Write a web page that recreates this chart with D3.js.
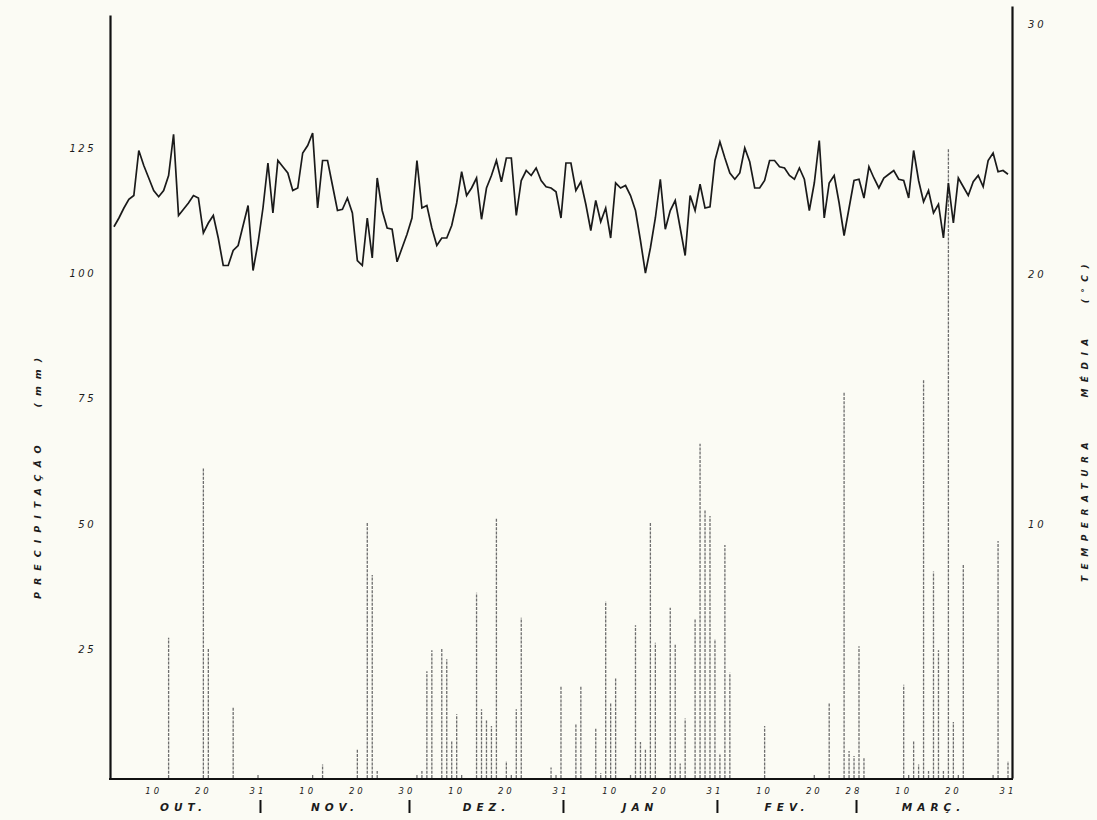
<!DOCTYPE html>
<html>
<head>
<meta charset="utf-8">
<script src="https://cdn.jsdelivr.net/npm/d3@7"></script>
<style>
  body { margin: 0; background: #fbfbf4; }
  svg { display: block; }
  text { font-family: "DejaVu Sans", sans-serif; font-style: italic; fill: #1c1c1c; }
</style>
</head>
<body>
<div id="chart"></div>
<script>
// daily series, day 0 = 1 Oct ... day 181 = 31 Mar
const width = 1097;
const height = 820;

// mean temperature (°C), one value per day
const tempC = [
  null, 22.05, 22.4, 22.8, 23.15, 23.3, 25.1, 24.5, 24.0, 23.5,
  23.25, 23.5, 24.1, 25.75, 22.5, 22.75, 23.0, 23.3, 23.2, 21.8,
  22.2, 22.5, 21.6, 20.5, 20.5, 21.1, 21.3, 22.1, 22.9, 20.3,
  21.4, 22.8, 24.6, 22.6, 24.7, 24.45, 24.2, 23.5, 23.6, 25.0,
  25.3, 25.8, 22.8, 24.7, 24.7, 23.7, 22.7, 22.75, 23.2, 22.6,
  20.7, 20.5, 22.4, 20.8, 24.0, 22.7, 22.0, 21.95, 20.65, 21.2,
  21.75, 22.4, 24.7, 22.8, 22.9, 22.0, 21.3, 21.6, 21.6, 22.1,
  23.0, 24.25, 23.3, 23.6, 24.0, 22.35, 23.6, 24.1, 24.7, 23.85,
  24.8, 24.8, 22.5, 23.9, 24.3, 24.1, 24.4, 23.9, 23.65, 23.6,
  23.45, 22.4, 24.6, 24.6, 23.5, 23.85, 22.95, 21.9, 23.1, 22.25,
  22.8, 21.6, 23.8, 23.6, 23.7, 23.3, 22.7, 21.5, 20.2, 21.2,
  22.4, 23.95, 21.95, 22.7, 23.1, 22.0, 20.9, 23.3, 22.7, 23.75,
  22.8, 22.85, 24.7, 25.45, 24.8, 24.2, 23.95, 24.2, 25.2, 24.65,
  23.6, 23.6, 23.9, 24.7, 24.7, 24.45, 24.4, 24.1, 23.95, 24.4,
  23.95, 22.7, 23.8, 25.5, 22.4, 23.8, 24.1, 23.0, 21.7, 22.8,
  23.9, 23.95, 23.2, 24.45, 24.0, 23.6, 24.0, 24.15, 24.3, 23.95,
  23.9, 23.2, 25.1, 23.9, 23.05, 23.5, 22.6, 22.95, 21.6, 23.8,
  22.2, 24.0, 23.65, 23.3, 23.85, 24.1, 23.65, 24.7, 25.0, 24.25,
  24.3, 24.15
];

// rain days and amounts (mm)
const rainDay = [12, 19, 20, 25, 30, 41, 43, 50, 52, 53, 54, 62, 63, 64, 65, 67, 68, 69, 70, 71,
  74, 75, 76, 77, 78, 80, 81, 82, 83, 89, 90, 91, 94, 95, 98, 99, 100, 101, 102, 105,
  106, 107, 108, 109, 110, 113, 114, 115, 116, 118, 119, 120, 121, 122, 123, 124, 125, 132, 142, 145,
  148, 149, 150, 151, 152, 160, 161, 162, 163, 164, 165, 166, 167, 168, 169, 170, 171, 172, 178, 179, 181];
const rainMm = [28, 62, 26, 14, 0.8, 0.8, 2.7, 5.7, 51, 40.5, 1.4, 0.6, 1.4, 21.3, 25.5, 26, 23.7, 7.5, 12.7, 0.6,
  37, 13.7, 11.5, 10.4, 52, 3.4, 0.6, 13.7, 32, 2.1, 0.8, 18.4, 10.7, 18.2, 9.9, 1.0, 35.3, 15, 20, 0.8,
  30.5, 7.2, 5.7, 51, 27, 34, 26.7, 2.9, 11.9, 31.7, 66.7, 53.6, 52.3, 27.7, 4.7, 46.5, 21, 10.4, 0.8, 15,
  77, 5.4, 4.4, 26.3, 4.1, 18.6, 0.6, 7.4, 2.7, 79.5, 1.4, 41.2, 25.5, 1.4, 125.7, 11.2, 0.6, 42.6, 0.8, 47.3, 3.4];

const precipTicks = [25, 50, 75, 100, 125];
const tempTicks = [10, 20, 30];
const dayTicks = [9, 19, 30, 40, 50, 60, 70, 80, 91, 101, 111, 122, 132, 142, 150, 160, 170, 181];
const months = ["OUT.", "NOV.", "DEZ.", "JAN", "FEV.", "MARÇ."];
const monthStart = [0, 31, 61, 92, 123, 151, 182];

const left = 110, right = 1012, base = 779;

const svg = d3.select("#chart").append("svg")
  .attr("width", width).attr("height", height);

const x = d3.scaleLinear().domain([0, 181]).range([109, 1008]);
const yP = d3.scaleLinear().domain([0, 152.3]).range([778, 15]);
const yT = d3.scaleLinear().domain([0, 30.88]).range([778, 6]);

// day number of the month for tick labels
const dayOfMonth = d => new Date(Date.UTC(2001, 9, 1 + d)).getUTCDate();

// precipitation bars
svg.append("g")
  .selectAll("line")
  .data(rainDay.map((d, i) => ({day: d, mm: rainMm[i]})))
  .join("line")
    .attr("x1", r => x(r.day))
    .attr("x2", r => x(r.day))
    .attr("y1", yP(0))
    .attr("y2", r => yP(r.mm))
    .attr("stroke", "#6e6e6e")
    .attr("stroke-width", 1.3)
    .attr("stroke-dasharray", "3,1.2");

// temperature
const line = d3.line()
  .defined(v => v != null)
  .x((v, i) => x(i))
  .y(v => yT(v));

svg.append("path")
  .datum(tempC)
  .attr("fill", "none")
  .attr("stroke", "#1a1a1a")
  .attr("stroke-width", 1.7)
  .attr("d", line);

// left axis
const gL = svg.append("g")
  .attr("transform", `translate(${left},0)`)
  .call(d3.axisLeft(yP).tickValues(precipTicks).tickSize(0).tickSizeOuter(0).tickPadding(14));
gL.select(".domain").attr("stroke", "#111").attr("stroke-width", 2.2);
gL.selectAll(".tick text")
  .attr("font-size", 10).attr("letter-spacing", 2.5)
  .attr("font-family", "DejaVu Sans").attr("font-style", "italic")
  .attr("dy", "-0.05em");

// right axis
const gR = svg.append("g")
  .attr("transform", `translate(${right},0)`)
  .call(d3.axisRight(yT).tickValues(tempTicks).tickSize(0).tickSizeOuter(0).tickPadding(16));
gR.select(".domain").attr("stroke", "#111").attr("stroke-width", 2.2);
gR.selectAll(".tick text")
  .attr("font-size", 10).attr("letter-spacing", 3)
  .attr("font-family", "DejaVu Sans").attr("font-style", "italic")
  .attr("dy", "-0.05em");

// baseline
svg.append("line")
  .attr("x1", left - 1).attr("x2", right + 1)
  .attr("y1", base).attr("y2", base)
  .attr("stroke", "#111").attr("stroke-width", 2.2);

// day ticks
svg.append("g")
  .selectAll("text")
  .data(dayTicks)
  .join("text")
    .attr("x", d => x(d))
    .attr("y", base + 15)
    .attr("text-anchor", "middle")
    .attr("font-size", 8.5)
    .attr("letter-spacing", 3)
    .text(d => dayOfMonth(d));

// month names
svg.append("g")
  .selectAll("text")
  .data(months)
  .join("text")
    .attr("x", (m, i) => x((monthStart[i] + monthStart[i + 1] - 1) / 2))
    .attr("y", base + 32)
    .attr("text-anchor", "middle")
    .attr("font-size", 10.5)
    .attr("font-weight", "bold")
    .attr("letter-spacing", 5)
    .text(m => m);

// month separators
svg.append("g")
  .selectAll("line")
  .data(monthStart.slice(1, -1))
  .join("line")
    .attr("x1", d => x(d - 0.5))
    .attr("x2", d => x(d - 0.5))
    .attr("y1", base + 21)
    .attr("y2", base + 34)
    .attr("stroke", "#111")
    .attr("stroke-width", 2);

// axis titles
svg.append("text")
  .attr("transform", "translate(41,475) rotate(-90)")
  .attr("text-anchor", "middle")
  .attr("font-size", 9.5)
  .attr("font-weight", "bold")
  .attr("letter-spacing", 7)
  .attr("xml:space", "preserve")
  .text("PRECIPITAÇÃO   (mm)");

svg.append("text")
  .attr("transform", "translate(1088,420) rotate(-90)")
  .attr("text-anchor", "middle")
  .attr("font-size", 9)
  .attr("font-weight", "bold")
  .attr("letter-spacing", 6.5)
  .attr("xml:space", "preserve")
  .text("TEMPERATURA    MÉDIA   (°C)");
</script>
</body>
</html>
